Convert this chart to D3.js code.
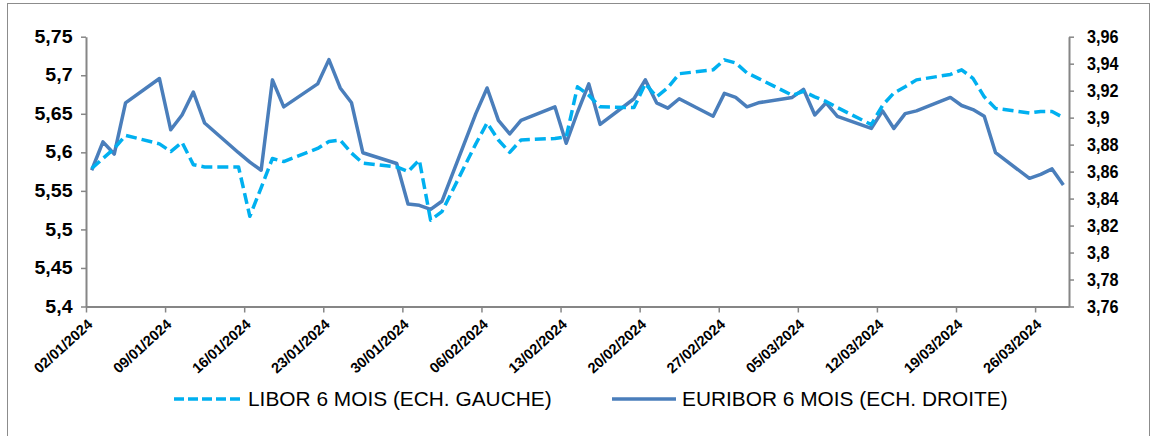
<!DOCTYPE html>
<html>
<head>
<meta charset="utf-8">
<script src="https://cdn.jsdelivr.net/npm/d3@7"></script>
<style>
  body { margin: 0; background: #fff; }
  svg { display: block; }
</style>
</head>
<body>
<svg width="1153" height="436"></svg>
<script>
// business days, Jan-Mar 2024
var dates = [
  "02/01/2024","03/01/2024","04/01/2024","05/01/2024","08/01/2024","09/01/2024","10/01/2024","11/01/2024","12/01/2024",
  "15/01/2024","16/01/2024","17/01/2024","18/01/2024","19/01/2024","22/01/2024","23/01/2024","24/01/2024","25/01/2024",
  "26/01/2024","29/01/2024","30/01/2024","31/01/2024",
  "01/02/2024","02/02/2024","05/02/2024","06/02/2024","07/02/2024","08/02/2024","09/02/2024","12/02/2024","13/02/2024",
  "14/02/2024","15/02/2024","16/02/2024","19/02/2024","20/02/2024","21/02/2024","22/02/2024","23/02/2024","26/02/2024",
  "27/02/2024","28/02/2024","29/02/2024",
  "01/03/2024","04/03/2024","05/03/2024","06/03/2024","07/03/2024","08/03/2024","11/03/2024","12/03/2024","13/03/2024",
  "14/03/2024","15/03/2024","18/03/2024","19/03/2024","20/03/2024","21/03/2024","22/03/2024","25/03/2024","26/03/2024",
  "27/03/2024","28/03/2024"
];

var libor = [
  5.579, 5.592, 5.605, 5.622, 5.611, 5.601, 5.613, 5.584, 5.581, 5.581, 5.517, 5.554, 5.592, 5.588, 5.605, 5.614,
  5.616, 5.599, 5.586, 5.581, 5.575, 5.590,
  5.512, 5.523, 5.611, 5.638, 5.616, 5.600, 5.616, 5.618, 5.620, 5.685, 5.674, 5.659, 5.658, 5.689, 5.672, 5.684,
  5.702, 5.707, 5.720, 5.716, 5.703,
  5.696, 5.674, 5.679, 5.672, 5.666, 5.658, 5.636, 5.661, 5.677, 5.685, 5.694, 5.701, 5.707, 5.696, 5.672, 5.657,
  5.651, 5.653, 5.653, 5.645
];

var euribor = [
  3.861, 3.882, 3.873, 3.911, 3.929, 3.891, 3.902, 3.919, 3.896, 3.874, 3.867, 3.861, 3.928, 3.908, 3.925, 3.943,
  3.922, 3.911, 3.874, 3.866, 3.836, 3.835,
  3.832, 3.838, 3.903, 3.922, 3.898, 3.888, 3.898, 3.908, 3.881, 3.904, 3.925, 3.895, 3.914, 3.928, 3.911, 3.907,
  3.914, 3.901, 3.918, 3.915, 3.908,
  3.911, 3.915, 3.921, 3.902, 3.911, 3.901, 3.892, 3.905, 3.892, 3.903, 3.905, 3.915, 3.909, 3.906, 3.901, 3.874,
  3.855, 3.858, 3.862, 3.850
];

var xTickLabels = ["02/01/2024","09/01/2024","16/01/2024","23/01/2024","30/01/2024","06/02/2024","13/02/2024",
  "20/02/2024","27/02/2024","05/03/2024","12/03/2024","19/03/2024","26/03/2024"];
var leftTicks = [5.4, 5.45, 5.5, 5.55, 5.6, 5.65, 5.7, 5.75];
var rightTicks = [3.76, 3.78, 3.8, 3.82, 3.84, 3.86, 3.88, 3.9, 3.92, 3.94, 3.96];

var seriesNames = ["LIBOR 6 MOIS (ECH. GAUCHE)", "EURIBOR 6 MOIS (ECH. DROITE)"];

var svg = d3.select("svg"),
    plotLeft = 86, plotRight = 1069, plotTop = 36.7, plotBottom = 306.5;

var parse = d3.utcParse("%d/%m/%Y");
var comma = function(d) { return String(d).replace(".", ","); };
var halfDay = 12 * 3600 * 1000; // excel puts the point in the middle of the day slot

var x = d3.scaleUtc()
    .domain([parse("02/01/2024"), parse("29/03/2024")])
    .range([plotLeft, plotRight]);
var yL = d3.scaleLinear().domain([5.4, 5.75]).range([plotBottom, plotTop]);
var yR = d3.scaleLinear().domain([3.76, 3.96]).range([plotBottom, plotTop]);

// outer frame
svg.append("rect")
    .attr("x", 7.5).attr("y", 3.5)
    .attr("width", 1142).attr("height", 445)
    .attr("fill", "none").attr("stroke", "#8c8c8c").attr("stroke-width", 1);

var axisColor = "#868686";
var font = "'Liberation Sans', Arial, sans-serif";

function styleAxis(g) {
  g.selectAll(".domain").attr("stroke", axisColor).attr("stroke-width", 2);
  g.selectAll(".tick line").attr("stroke", axisColor).attr("stroke-width", 1.5);
  g.selectAll("text").attr("fill", "#000");
}

// left axis
var gl = svg.append("g")
    .attr("transform", "translate(" + plotLeft + ",0)")
    .call(d3.axisLeft(yL).tickValues(leftTicks).tickFormat(comma).tickSize(5).tickSizeOuter(0).tickPadding(7));
styleAxis(gl);
gl.selectAll("text")
    .attr("font-family", font)
    .attr("font-weight", "bold").attr("font-size", 17.5)
    .attr("transform", "scale(1.12,1)");

// right axis
var gr = svg.append("g")
    .attr("transform", "translate(" + plotRight + ",0)")
    .call(d3.axisRight(yR).tickValues(rightTicks).tickFormat(comma).tickSize(5).tickSizeOuter(0).tickPadding(15));
styleAxis(gr);
gr.selectAll("text")
    .attr("font-family", font)
    .attr("font-weight", "bold").attr("font-size", 18)
    .attr("transform", "scale(0.9,1)");

// x axis
var gx = svg.append("g")
    .attr("transform", "translate(0," + plotBottom + ")")
    .call(d3.axisBottom(x).tickValues(xTickLabels.map(parse))
      .tickFormat(d3.utcFormat("%d/%m/%Y")).tickSize(6).tickSizeOuter(0));
styleAxis(gx);
gx.selectAll("text")
    .attr("font-family", font)
    .attr("font-weight", "bold").attr("font-size", 14.5)
    .attr("text-anchor", "end")
    .attr("x", 0).attr("y", 0).attr("dy", 0)
    .attr("transform", "translate(7,19) rotate(-42)");

// lines
var rows = dates.map(function(d, i) {
  return { date: new Date(+parse(d) + halfDay), libor: libor[i], euribor: euribor[i] };
});

var liborColor = "#00b0f0", euriborColor = "#4a7ebb";

svg.append("path")
    .datum(rows)
    .attr("fill", "none")
    .attr("stroke", euriborColor)
    .attr("stroke-width", 3.5)
    .attr("stroke-linejoin", "round")
    .attr("d", d3.line().x(function(d) { return x(d.date); }).y(function(d) { return yR(d.euribor); }));

svg.append("path")
    .datum(rows)
    .attr("fill", "none")
    .attr("stroke", liborColor)
    .attr("stroke-width", 3.5)
    .attr("stroke-linejoin", "round")
    .attr("stroke-dasharray", "11,5")
    .attr("d", d3.line().x(function(d) { return x(d.date); }).y(function(d) { return yL(d.libor); }));

// legend
var legend = svg.append("g");
var items = [
  { name: seriesNames[0], color: liborColor, dash: "10,4", x1: 174, x2: 242, tx: 248 },
  { name: seriesNames[1], color: euriborColor, dash: null, x1: 612, x2: 676, tx: 682 }
];
items.forEach(function(it) {
  legend.append("line")
      .attr("x1", it.x1).attr("x2", it.x2).attr("y1", 399).attr("y2", 399)
      .attr("stroke", it.color).attr("stroke-width", 3.5)
      .attr("stroke-dasharray", it.dash);
  legend.append("text")
      .attr("transform", "translate(" + it.tx + ",406) scale(1.07,1)")
      .attr("font-family", font)
      .attr("font-size", 19.5)
      .attr("fill", "#000")
      .text(it.name);
});
</script>
</body>
</html>
